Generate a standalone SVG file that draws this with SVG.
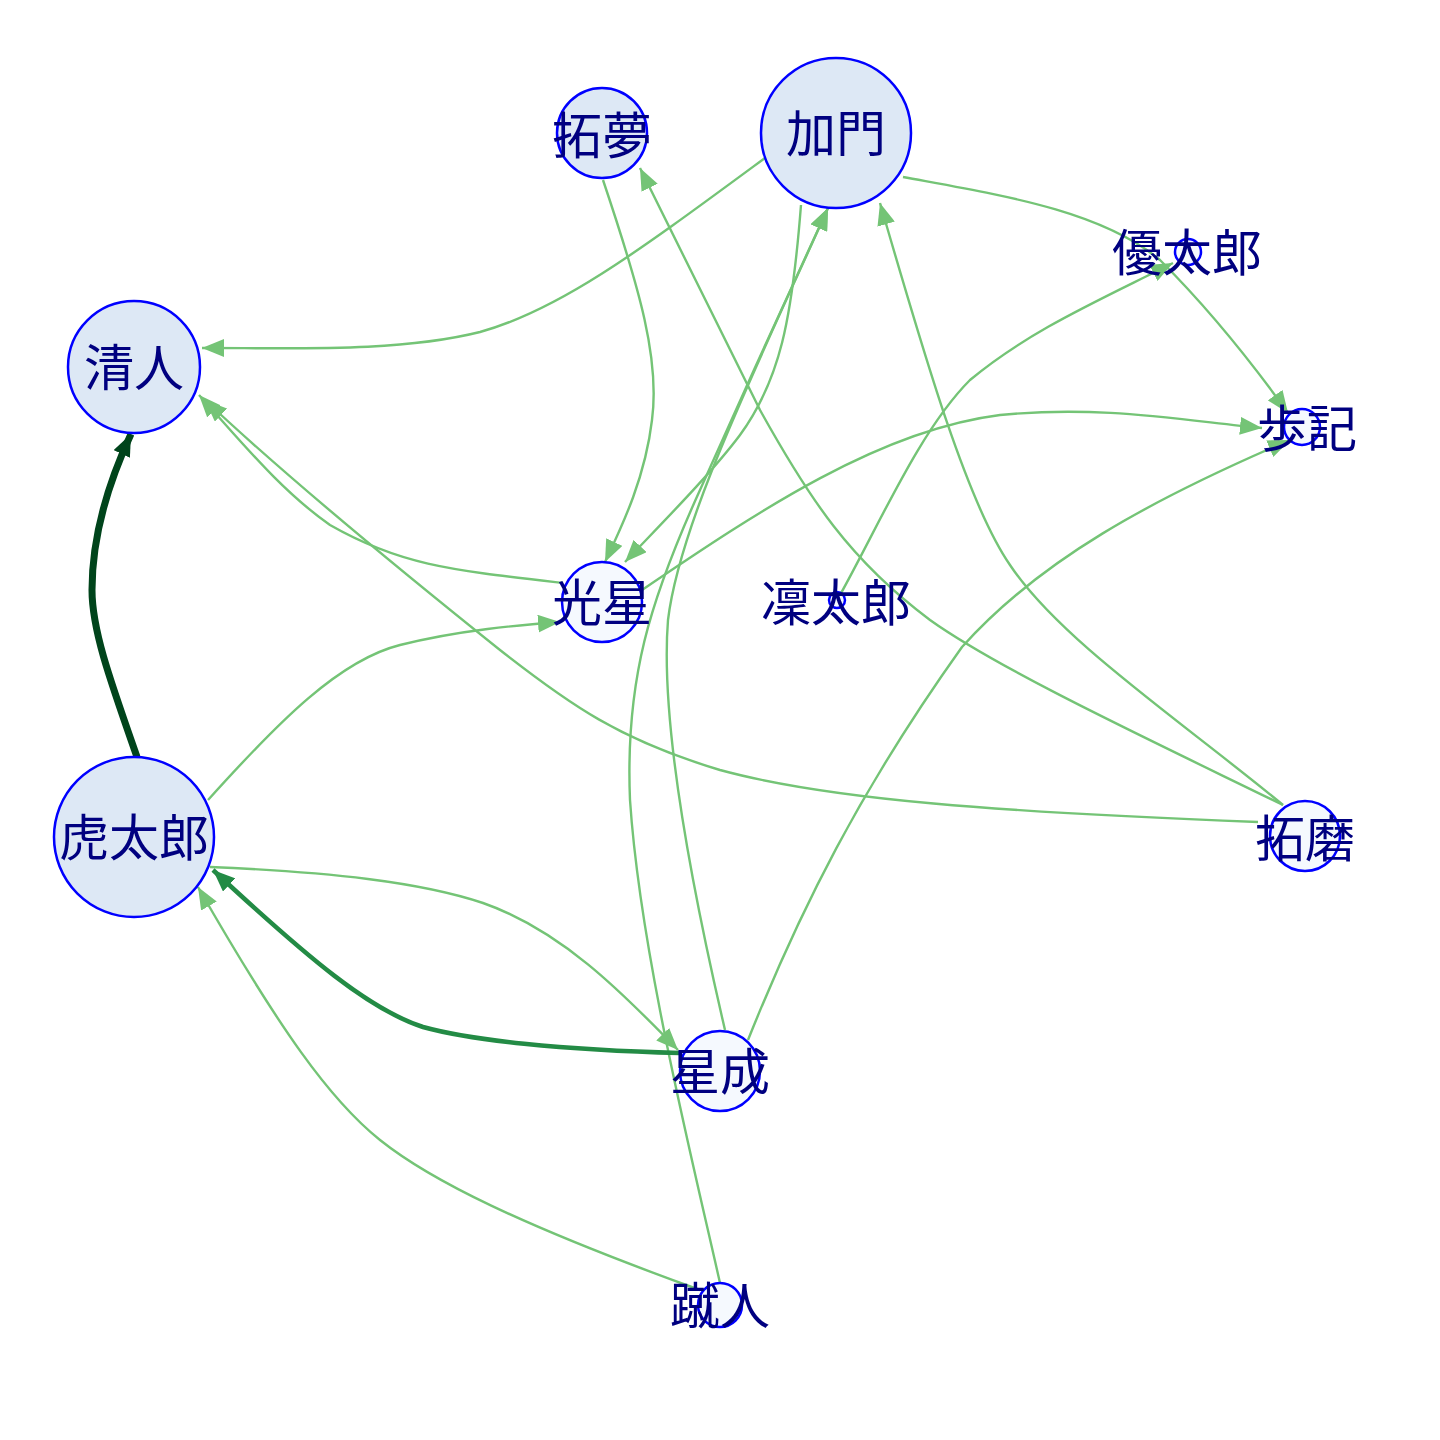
<svg xmlns="http://www.w3.org/2000/svg" width="1440" height="1440" viewBox="0 0 1440 1440">
<defs>
<style>
.e{fill:none;stroke:#74c476;stroke-width:2.4}
.e2{fill:none;stroke:#238b45;stroke-width:4.5}
.e3{fill:none;stroke:#00441b;stroke-width:7}
.nb{fill:#dde8f5;stroke:#0000ff;stroke-width:2.5}
.ns{fill:#f5f9fe;stroke:#0000ff;stroke-width:2.5}
.t{font-family:"Noto Sans CJK JP","Noto Sans CJK TC",sans-serif;font-size:50px;fill:#000080;text-anchor:middle;dominant-baseline:central}
</style>
<marker id="a1" markerUnits="userSpaceOnUse" markerWidth="24" markerHeight="18" refX="22" refY="9" orient="auto"><path d="M0,0 L22,9 L0,18 Z" fill="#74c476"/></marker>
<marker id="a2" markerUnits="userSpaceOnUse" markerWidth="24" markerHeight="18" refX="22" refY="9" orient="auto"><path d="M0,0 L22,9 L0,18 Z" fill="#238b45"/></marker>
<marker id="a3" markerUnits="userSpaceOnUse" markerWidth="24" markerHeight="18" refX="22" refY="9" orient="auto"><path d="M0,0 L22,9 L0,18 Z" fill="#00441b"/></marker>
</defs>
<rect width="1440" height="1440" fill="#ffffff"/>
<g id="edges">
<path class="e" marker-end="url(#a1)" d="M765,158 C640,250 560,310 480,332 C400,352 300,348 202,348"/>
<path class="e" marker-end="url(#a1)" d="M603,180 C640,290 660,360 652,420 C645,480 620,530 605,562"/>
<path class="e" marker-end="url(#a1)" d="M1283,805 C1150,740 1000,670 930,620 C850,560 810,500 760,410 C720,330 680,250 640,168"/>
<path class="e" marker-end="url(#a1)" d="M801,205 C792,320 780,380 740,435 C710,475 660,525 625,562"/>
<path class="e" marker-end="url(#a1)" d="M725,1030 C690,880 660,720 668,620 C680,520 760,360 828,208"/>
<path class="e" marker-end="url(#a1)" d="M720,1283 C690,1150 640,950 630,800 C625,680 650,600 700,490 C740,400 790,290 828,208"/>
<path class="e" marker-end="url(#a1)" d="M642,590 C760,510 880,430 1000,415 C1100,405 1180,420 1262,428"/>
<path class="e" marker-end="url(#a1)" d="M208,800 C280,720 340,660 400,645 C460,630 520,625 560,622"/>
<path class="e" marker-end="url(#a1)" d="M563,583 C450,570 400,565 330,525 C280,490 240,440 199,395"/>
<path class="e" marker-end="url(#a1)" d="M1258,822 C1000,812 830,800 720,770 C620,740 570,705 500,650 C400,570 290,480 205,400"/>
<path class="e" marker-end="url(#a1)" d="M903,177 C1000,195 1100,210 1160,260 C1210,310 1250,360 1288,413"/>
<path class="e" marker-end="url(#a1)" d="M840,595 C880,523 920,430 970,380 C1030,330 1100,300 1173,263"/>
<path class="e" marker-end="url(#a1)" d="M1283,805 C1180,720 1060,640 1010,565 C965,500 920,340 880,203"/>
<path class="e" marker-end="url(#a1)" d="M748,1040 C800,910 860,790 962,647 C1040,560 1150,500 1290,440"/>
<path class="e" marker-end="url(#a1)" d="M210,867 C330,872 420,882 483,903 C560,930 620,990 678,1050"/>
<path class="e2" marker-end="url(#a2)" d="M680,1053 C560,1050 470,1040 423,1027 C370,1010 310,960 213,870"/>
<path class="e3" marker-end="url(#a3)" d="M137,757 C110,680 92,630 92,590 C92,540 105,490 131,434"/>
<path class="e" marker-end="url(#a1)" d="M700,1290 C520,1225 430,1180 380,1140 C330,1100 280,1030 198,887"/>
</g>
<g id="n-takumu"><circle class="nb" cx="602" cy="133" r="45"/><text class="t" x="602" y="132">拓夢</text></g>
<g id="n-kamon"><circle class="nb" cx="836" cy="133" r="75"/><text class="t" x="836" y="130">加門</text></g>
<g id="n-yutaro"><circle class="ns" cx="1188" cy="252" r="13"/><text class="t" x="1187" y="249">優太郎</text></g>
<g id="n-ayuki"><circle class="ns" cx="1302" cy="427" r="18"/><text class="t" x="1307" y="425">歩記</text></g>
<g id="n-kiyoto"><circle class="nb" cx="134" cy="367" r="66"/><text class="t" x="134" y="364">清人</text></g>
<g id="n-kosei"><circle class="ns" cx="602" cy="602" r="40"/><text class="t" x="602" y="599">光星</text></g>
<g id="n-rintaro"><circle class="ns" cx="837" cy="600" r="8"/><text class="t" x="836" y="599">凜太郎</text></g>
<g id="n-kotaro"><circle class="nb" cx="134" cy="837" r="80"/><text class="t" x="134" y="834">虎太郎</text></g>
<g id="n-seina"><circle class="ns" cx="720" cy="1071" r="40"/><text class="t" x="720" y="1068">星成</text></g>
<g id="n-shuto"><circle class="ns" cx="720" cy="1305" r="22"/><text class="t" x="720" y="1302">蹴人</text></g>
<g id="n-takuma"><circle class="ns" cx="1305" cy="836" r="35"/><text class="t" x="1305" y="835">拓磨</text></g>
</svg>
